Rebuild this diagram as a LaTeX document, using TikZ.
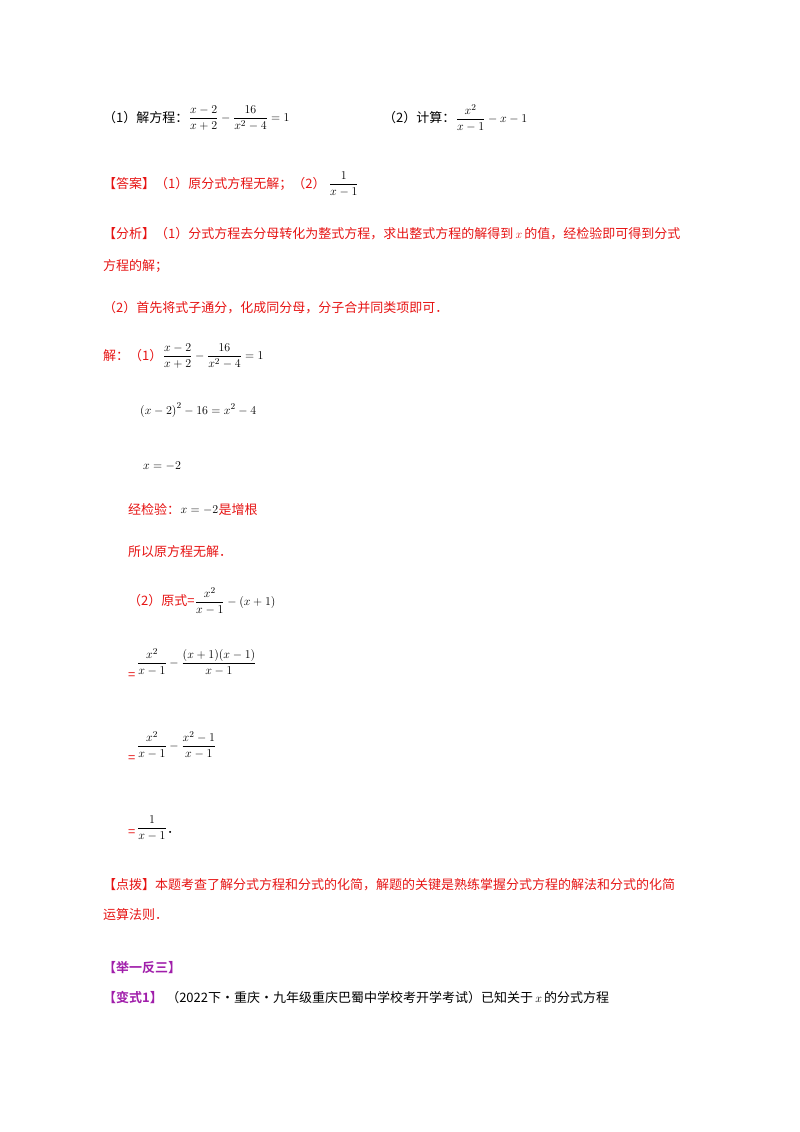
\documentclass[tikz,border=0pt]{standalone}
\usepackage{amsmath}
\usepackage{fontspec}
\setmainfont{Liberation Serif}
\newfontfamily\cjk{Noto Sans CJK SC}
\newfontfamily\cjkb{Noto Sans CJK SC Bold}
\definecolor{ansred}{RGB}{230,20,20}
\definecolor{purp}{RGB}{160,30,170}
\tikzset{
 t/.style={anchor=base west,inner sep=0pt,font=\fontsize{13}{15}\selectfont\cjk},
 r/.style={t,text=ansred},
 m/.style={anchor=west,inner sep=0pt,font=\fontsize{12.5}{14}\selectfont},
}
\newcommand{\fr}[2]{\dfrac{#1}{#2}}
\begin{document}
\begin{tikzpicture}[x=1pt,y=-1pt]
\useasboundingbox (0,0) rectangle (800,1132);
\node[t] (a1) at (103,122) {（1）解方程：};
\node[m] (a1m) at (a1.base east) [yshift=4pt] {$\fr{x-2}{x+2}-\fr{16}{x^2-4}=1$};
\node[t] (a2) at (383,122) {（2）计算：};
\node[m] (a2m) at (a2.base east) [yshift=4pt] {$\fr{x^2}{x-1}-x-1$};
\node[r] (b1) at (103,188) {【答案】（1）原分式方程无解；（2）};
\node[m] (b1m) at (b1.base east) [xshift=3pt,yshift=4pt] {$\fr{1}{x-1}$};
\node[r] (c1) at (103,238) {【分析】（1）分式方程去分母转化为整式方程，求出整式方程的解得到\,$x$\,的值，经检验即可得到分式};
\node[r] (c2) at (103,270) {方程的解；};
\node[r] (c3) at (103,312) {（2）首先将式子通分，化成同分母，分子合并同类项即可．};
\node[r] (d1) at (103,360) {解：（1）};
\node[m] (d1m) at (d1.base east) [yshift=4pt] {$\fr{x-2}{x+2}-\fr{16}{x^2-4}=1$};
\node[m] (d2) at (140,410) {$\left(x-2\right)^2-16=x^2-4$};
\node[m] (d3) at (143,466) {$x=-2$};
\node[r] (d4) at (128,514) {经检验：};
\node[m] (d4m) at (d4.base east) [yshift=4pt] {$x=-2$};
\node[r] (d4b) at (d4m.east) [anchor=west] {是增根};
\node[r] (d5) at (128,556) {所以原方程无解．};
\node[r] (e1) at (128,605) {（2）原式=};
\node[m] (e1m) at (e1.base east) [yshift=4pt] {$\fr{x^2}{x-1}-\left(x+1\right)$};
\node[r] (e2) at (128,679) {=};
\node[m] (e2m) at (137,662) {$\fr{x^2}{x-1}-\fr{(x+1)(x-1)}{x-1}$};
\node[r] (e3) at (128,762) {=};
\node[m] (e3m) at (137,745) {$\fr{x^2}{x-1}-\fr{x^2-1}{x-1}$};
\node[r] (e4) at (128,836) {=};
\node[m] (e4m) at (137,828) {$\fr{1}{x-1}$};
\node[t] (e4d) at (e4m.east) [anchor=west,yshift=-4pt] {．};
\node[r] (f1) at (103,889) {【点拨】本题考查了解分式方程和分式的化简，解题的关键是熟练掌握分式方程的解法和分式的化简};
\node[r] (f2) at (103,919) {运算法则．};
\node[t,text=purp,font=\fontsize{13}{15}\selectfont\cjkb] (g1) at (103,972) {【举一反三】};
\node[t,text=purp,font=\fontsize{13}{15}\selectfont\cjkb] (g2) at (103,1002) {【变式1】};
\node[t] (g3) at (g2.base east) [xshift=3pt] {（2022下·重庆·九年级重庆巴蜀中学校考开学考试）已知关于\,$x$\,的分式方程};
\end{tikzpicture}
\end{document}
